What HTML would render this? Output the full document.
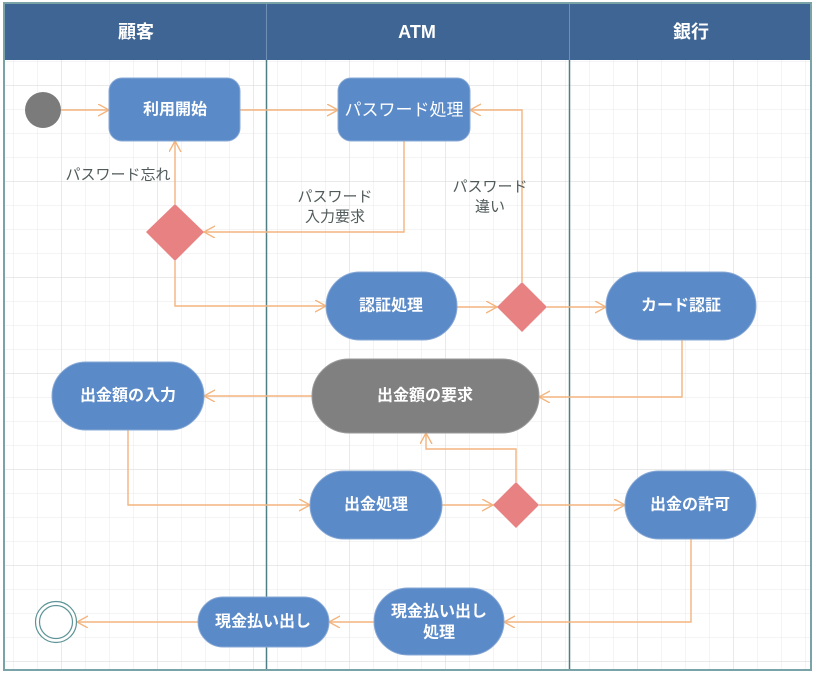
<!DOCTYPE html>
<html>
<head>
<meta charset="utf-8">
<style>
html,body{margin:0;padding:0;background:#fff;}
svg{display:block;}
text{font-family:"Liberation Sans","Noto Sans CJK JP",sans-serif;}
</style>
</head>
<body>
<svg width="818" height="673" viewBox="0 0 818 673" xmlns="http://www.w3.org/2000/svg">
<defs>
<pattern id="minor" x="13.5" y="13" width="24" height="24" patternUnits="userSpaceOnUse">
<path d="M0,0 L0,24 M0,0 L24,0" stroke="#e9e9e9" stroke-width="1" fill="none"/>
</pattern>
<pattern id="major" x="61.5" y="85" width="96" height="96" patternUnits="userSpaceOnUse">
<path d="M0,0 L0,96 M0,0 L96,0" stroke="#d6d6d6" stroke-width="1" fill="none"/>
</pattern>
<marker id="ar" markerUnits="userSpaceOnUse" markerWidth="14" markerHeight="14" refX="11" refY="6" orient="auto">
<path d="M0,0 L11,6 L0,12" fill="none" stroke="#f3b47e" stroke-width="1.4"/>
</marker>
</defs>

<!-- body background + grid -->
<rect x="4" y="60" width="807" height="610" fill="#fff"/>
<rect x="4" y="60" width="807" height="610" fill="url(#minor)"/>
<rect x="4" y="60" width="807" height="610" fill="url(#major)"/>

<!-- header -->
<rect x="4" y="3" width="807" height="57" fill="#3f6594"/>
<line x1="266.5" y1="3" x2="266.5" y2="60" stroke="#6f90b4" stroke-width="1"/>
<line x1="569.5" y1="3" x2="569.5" y2="60" stroke="#6f90b4" stroke-width="1"/>
<text x="136" y="32" fill="#fff" font-size="18" font-weight="bold" text-anchor="middle" dominant-baseline="central">顧客</text>
<text x="417" y="32" fill="#fff" font-size="18" font-weight="bold" text-anchor="middle" dominant-baseline="central">ATM</text>
<text x="691" y="32" fill="#fff" font-size="18" font-weight="bold" text-anchor="middle" dominant-baseline="central">銀行</text>

<!-- lane lines -->
<line x1="266.5" y1="60" x2="266.5" y2="670" stroke="#4f7f84" stroke-width="1.5"/>
<line x1="569.5" y1="60" x2="569.5" y2="670" stroke="#4f7f84" stroke-width="1.5"/>

<!-- outer frame -->
<rect x="4" y="3" width="807" height="667" fill="none" stroke="#7aa3a8" stroke-width="2"/>

<!-- connectors -->
<g fill="none" stroke="#f3b47e" stroke-width="1.4">
<polyline points="61,110 109,110" marker-end="url(#ar)"/>
<polyline points="240,110 338,110" marker-end="url(#ar)"/>
<polyline points="404,141 404,232 204,232" marker-end="url(#ar)"/>
<polyline points="175,204 175,141" marker-end="url(#ar)"/>
<polyline points="175,261 175,306 326,306" marker-end="url(#ar)"/>
<polyline points="457,307 497,307" marker-end="url(#ar)"/>
<polyline points="547,307 606,307" marker-end="url(#ar)"/>
<polyline points="522,282 522,110 470,110" marker-end="url(#ar)"/>
<polyline points="682,340 682,397 539,397" marker-end="url(#ar)"/>
<polyline points="312,396 204,396" marker-end="url(#ar)"/>
<polyline points="128,430 128,505 310,505" marker-end="url(#ar)"/>
<polyline points="442,505 493,505" marker-end="url(#ar)"/>
<polyline points="516,482 516,449 426,449 426,433" marker-end="url(#ar)"/>
<polyline points="539,505 625,505" marker-end="url(#ar)"/>
<polyline points="691,539 691,622 504,622" marker-end="url(#ar)"/>
<polyline points="374,622 329,622" marker-end="url(#ar)"/>
<polyline points="198,622 77,622" marker-end="url(#ar)"/>
</g>

<!-- initial node -->
<circle cx="43" cy="110" r="18" fill="#7b7b7b"/>

<!-- final node -->
<circle cx="56" cy="622" r="20.5" fill="#fff" stroke="#5d9396" stroke-width="1.2"/>
<circle cx="56" cy="622" r="16.5" fill="#fff" stroke="#5d9396" stroke-width="1.2"/>

<!-- diamonds -->
<polygon points="146,232 175,204 204,232 175,261" fill="#e88282"/>
<polygon points="497,307 522,282 547,307 522,332" fill="#e88282"/>
<polygon points="493,505 516,482 539,505 516,528" fill="#e88282"/>

<!-- nodes -->
<g stroke="#88a9d6" stroke-width="1">
<rect x="109" y="78" width="131" height="63" rx="13" fill="#5a8ac8"/>
<rect x="338" y="78" width="132" height="63" rx="13" fill="#5a8ac8"/>
<rect x="326" y="272" width="131" height="68" rx="34" fill="#5a8ac8"/>
<rect x="606" y="272" width="150" height="68" rx="34" fill="#5a8ac8"/>
<rect x="52" y="362" width="152" height="68" rx="34" fill="#5a8ac8"/>
<rect x="310" y="471" width="132" height="68" rx="34" fill="#5a8ac8"/>
<rect x="625" y="471" width="131" height="68" rx="34" fill="#5a8ac8"/>
<rect x="198" y="597" width="131" height="50" rx="25" fill="#5a8ac8"/>
<rect x="374" y="588" width="130" height="67" rx="34" fill="#5a8ac8"/>
</g>
<rect x="312" y="359" width="227" height="74" rx="37" fill="#808080" stroke="#9a9a9a" stroke-width="1"/>

<!-- node labels -->
<g fill="#fff" font-size="16" font-weight="bold" text-anchor="middle" dominant-baseline="central">
<text x="175" y="110">利用開始</text>
<text x="404" y="110" font-weight="normal" font-size="17">パスワード処理</text>
<text x="391" y="306">認証処理</text>
<text x="681" y="306">カード認証</text>
<text x="128" y="396">出金額の入力</text>
<text x="425" y="396">出金額の要求</text>
<text x="376" y="505">出金処理</text>
<text x="690" y="505">出金の許可</text>
<text x="263" y="622">現金払い出し</text>
<text x="439" y="612">現金払い出し</text>
<text x="439" y="633">処理</text>
</g>

<!-- edge labels -->
<g fill="#505a5a" font-size="15" text-anchor="middle" dominant-baseline="central">
<text x="118" y="175">パスワード忘れ</text>
<text x="335" y="197">パスワード</text>
<text x="335" y="217">入力要求</text>
<text x="490" y="187">パスワード</text>
<text x="490" y="207">違い</text>
</g>
</svg>
</body>
</html>
